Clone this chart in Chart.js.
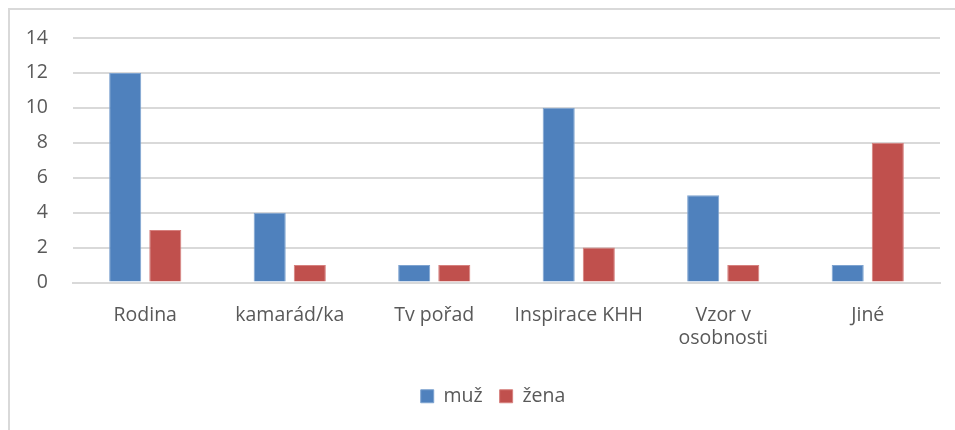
<!DOCTYPE html>
<html lang="cs">
<head>
  <meta charset="UTF-8" />
  <title>muž / žena</title>
  <script src="https://cdn.jsdelivr.net/npm/chart.js"></script>
  <style>
    body {
      margin: 0;
      background: #ffffff;
    }
    .frame {
      position: absolute;
      left: 8px;
      top: 8px;
      width: 947px;
      height: 422px;
      border-left: 2px solid #d9d9d9;
      border-top: 2px solid #d9d9d9;
    }
  </style>
</head>
<body>
  <div class="frame">
    <canvas id="chart"></canvas>
  </div>

  <script>
    const categories = ["Rodina", "kamarád/ka", "Tv pořad", "Inspirace KHH", ["Vzor v", "osobnosti"], "Jiné"];
    const muz = [12, 4, 1, 10, 5, 1];
    const zena = [3, 1, 1, 2, 1, 8];
    const yTicks = [0, 2, 4, 6, 8, 10, 12, 14];

    const font = { family: "'Open Sans', sans-serif", size: 19.5 };

    // legend sits a little right of centre in the original
    const nudgeLegend = {
      id: "nudgeLegend",
      afterLayout(chart) {
        chart.legend.left += 18;
        chart.legend.right += 18;
      }
    };

    new Chart(document.getElementById("chart"), {
      type: "bar",
      data: {
        labels: categories,
        datasets: [
          {
            label: "muž",
            data: muz,
            backgroundColor: "#4f81bd",
            borderColor: "#7ea3d0",
            borderWidth: 1
          },
          {
            label: "žena",
            data: zena,
            backgroundColor: "#c0504d",
            borderColor: "#d6807e",
            borderWidth: 1
          }
        ]
      },
      plugins: [nudgeLegend],
      options: {
        responsive: true,
        maintainAspectRatio: false,
        animation: false,
        layout: { padding: { top: 28, right: 17, bottom: 16, left: 0 } },
        datasets: {
          bar: { categoryPercentage: 0.555, barPercentage: 0.8 }
        },
        scales: {
          x: {
            grid: { display: false },
            border: { color: "#d9d9d9", width: 2 },
            ticks: { color: "#595959", font: font, padding: 13, maxRotation: 0 },
            afterFit: s => { s.height = 87; }
          },
          y: {
            min: 0,
            max: 14,
            afterBuildTicks: s => { s.ticks = yTicks.map(v => ({ value: v })); },
            grid: { color: "#d9d9d9", lineWidth: 2, drawTicks: false },
            border: { display: false },
            ticks: { color: "#595959", font: font, padding: 25 },
            afterFit: s => {
              s.width = 63;
              s.paddingTop = 0;
              s.paddingBottom = 0;
            }
          }
        },
        plugins: {
          legend: {
            position: "bottom",
            labels: {
              color: "#595959",
              font: font,
              boxWidth: 13,
              boxHeight: 13,
              padding: 17
            }
          },
          tooltip: { enabled: false }
        }
      }
    });
  </script>
</body>
</html>
